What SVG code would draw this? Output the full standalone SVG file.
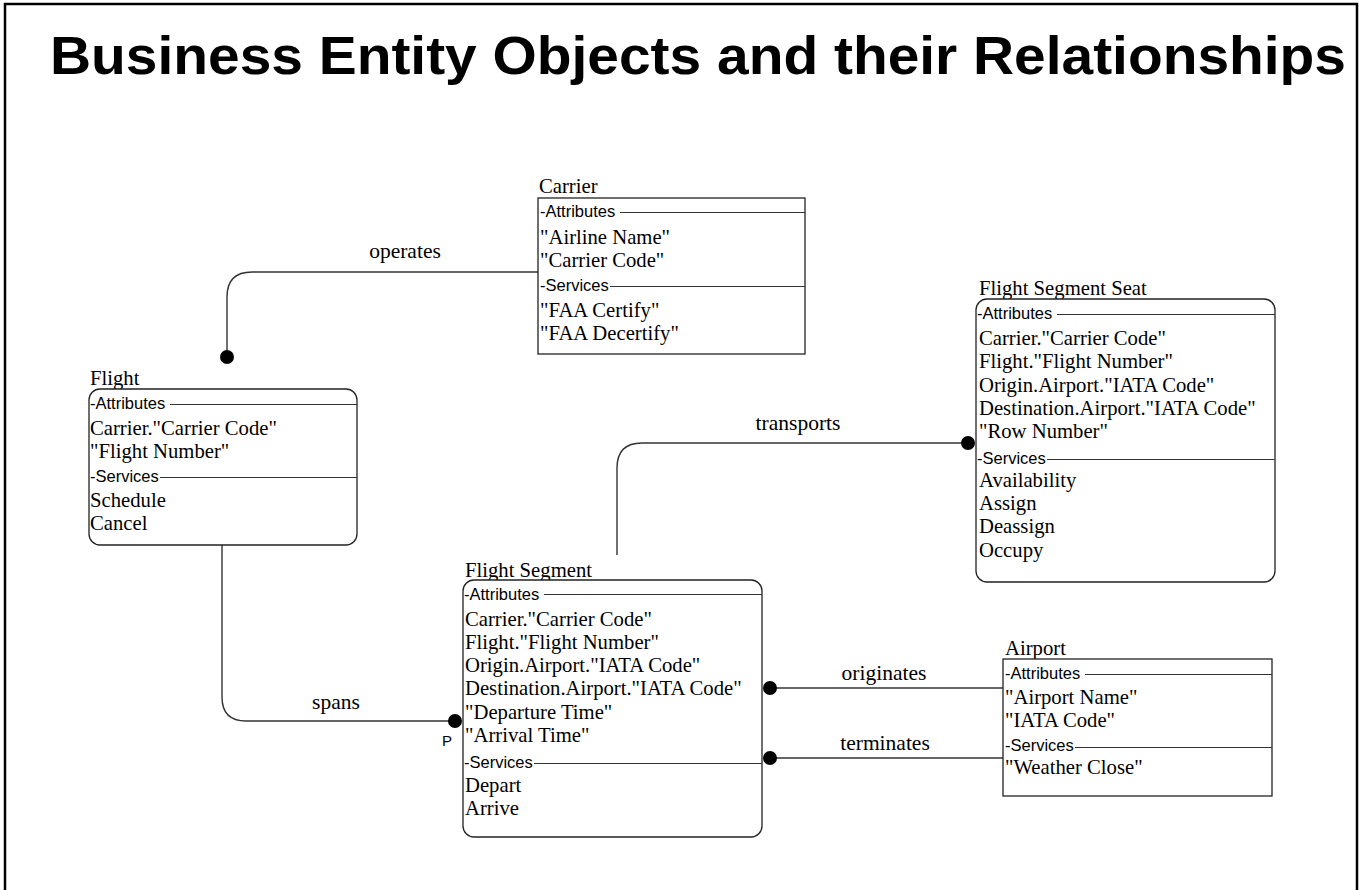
<svg xmlns="http://www.w3.org/2000/svg" width="1359" height="890" viewBox="0 0 1359 890">
<style>
.frame{fill:none;stroke:#000;stroke-width:2.5}
.title{font-family:"Liberation Sans",Arial,sans-serif;font-weight:bold;font-size:54px;fill:#000}
.box{fill:#fff;stroke:#222;stroke-width:1.3}
.name{font-family:"Liberation Serif","Times New Roman",serif;font-size:20.7px;fill:#000}
.item{font-family:"Liberation Serif","Times New Roman",serif;font-size:20.7px;fill:#000}
.hdr{font-family:"Liberation Sans",Arial,sans-serif;font-size:16.5px;fill:#000}
.sep{stroke:#333;stroke-width:1.2}
.conn{fill:none;stroke:#333;stroke-width:1.4}
.dot{fill:#000}
.lbl{font-family:"Liberation Serif","Times New Roman",serif;font-size:21.5px;fill:#000;text-anchor:middle}
.p{font-family:"Liberation Sans",Arial,sans-serif;font-size:15px;fill:#000;text-anchor:middle}
</style>
<rect class="frame" x="5" y="4" width="1352" height="900"/>
<text class="title" x="698" y="74" text-anchor="middle" textLength="1296" lengthAdjust="spacingAndGlyphs">Business Entity Objects and their Relationships</text>

<g id="connectors">
  <g id="operates">
    <path class="conn" d="M538,272 H252 Q227,272 227,297 V357"/>
    <circle class="dot" cx="227" cy="357" r="7"/>
    <text class="lbl" x="405" y="258">operates</text>
  </g>
  <g id="spans">
    <path class="conn" d="M222,545 V697 Q222,721 246,721 H455"/>
    <circle class="dot" cx="455" cy="721" r="7"/>
    <text class="lbl" x="336" y="709">spans</text>
    <text class="p" x="447" y="746">P</text>
  </g>
  <g id="transports">
    <path class="conn" d="M617,555 V468 Q617,443 642,443 H968"/>
    <circle class="dot" cx="968" cy="443" r="7"/>
    <text class="lbl" x="798" y="430">transports</text>
  </g>
  <g id="originates">
    <path class="conn" d="M1003,688 H770"/>
    <circle class="dot" cx="770" cy="688" r="7"/>
    <text class="lbl" x="884" y="680">originates</text>
  </g>
  <g id="terminates">
    <path class="conn" d="M1003,758 H770"/>
    <circle class="dot" cx="770" cy="758" r="7"/>
    <text class="lbl" x="885" y="750">terminates</text>
  </g>
</g>

<g id="carrier">
  <text class="name" x="539" y="193">Carrier</text>
  <rect class="box" x="538" y="198" width="267" height="156"/>
  <text class="hdr" x="540" y="217">-Attributes</text>
  <line class="sep" x1="620" y1="212.5" x2="805" y2="212.5"/>
  <text class="item" x="540" y="244">"Airline Name"</text>
  <text class="item" x="540" y="267">"Carrier Code"</text>
  <text class="hdr" x="540" y="291">-Services</text>
  <line class="sep" x1="610" y1="286.5" x2="805" y2="286.5"/>
  <text class="item" x="540" y="317">"FAA Certify"</text>
  <text class="item" x="540" y="340">"FAA Decertify"</text>
</g>

<g id="flight">
  <text class="name" x="90" y="385">Flight</text>
  <rect class="box" x="89" y="389" width="268" height="156" rx="11"/>
  <text class="hdr" x="90" y="409">-Attributes</text>
  <line class="sep" x1="170" y1="404.5" x2="357" y2="404.5"/>
  <text class="item" x="90" y="435">Carrier."Carrier Code"</text>
  <text class="item" x="90" y="458">"Flight Number"</text>
  <text class="hdr" x="90" y="482">-Services</text>
  <line class="sep" x1="160" y1="477.5" x2="357" y2="477.5"/>
  <text class="item" x="90" y="507">Schedule</text>
  <text class="item" x="90" y="530">Cancel</text>
</g>

<g id="flight-segment-seat">
  <text class="name" x="979" y="295">Flight Segment Seat</text>
  <rect class="box" x="976" y="299" width="299" height="283" rx="11"/>
  <text class="hdr" x="977" y="319">-Attributes</text>
  <line class="sep" x1="1057" y1="314.5" x2="1275" y2="314.5"/>
  <text class="item" x="979" y="345">Carrier."Carrier Code"</text>
  <text class="item" x="979" y="368">Flight."Flight Number"</text>
  <text class="item" x="979" y="392">Origin.Airport."IATA Code"</text>
  <text class="item" x="979" y="415">Destination.Airport."IATA Code"</text>
  <text class="item" x="979" y="438">"Row Number"</text>
  <text class="hdr" x="977" y="464">-Services</text>
  <line class="sep" x1="1047" y1="459.5" x2="1275" y2="459.5"/>
  <text class="item" x="979" y="487">Availability</text>
  <text class="item" x="979" y="510">Assign</text>
  <text class="item" x="979" y="533">Deassign</text>
  <text class="item" x="979" y="557">Occupy</text>
</g>

<g id="flight-segment">
  <text class="name" x="465" y="577">Flight Segment</text>
  <rect class="box" x="463" y="580" width="299" height="257" rx="11"/>
  <text class="hdr" x="464" y="600">-Attributes</text>
  <line class="sep" x1="544" y1="594.5" x2="762" y2="594.5"/>
  <text class="item" x="465" y="626">Carrier."Carrier Code"</text>
  <text class="item" x="465" y="649">Flight."Flight Number"</text>
  <text class="item" x="465" y="672">Origin.Airport."IATA Code"</text>
  <text class="item" x="465" y="695">Destination.Airport."IATA Code"</text>
  <text class="item" x="465" y="719">"Departure Time"</text>
  <text class="item" x="465" y="742">"Arrival Time"</text>
  <text class="hdr" x="464" y="768">-Services</text>
  <line class="sep" x1="534" y1="763.5" x2="762" y2="763.5"/>
  <text class="item" x="465" y="792">Depart</text>
  <text class="item" x="465" y="815">Arrive</text>
</g>

<g id="airport">
  <text class="name" x="1005" y="655">Airport</text>
  <rect class="box" x="1003" y="659" width="269" height="137"/>
  <text class="hdr" x="1005" y="679">-Attributes</text>
  <line class="sep" x1="1085" y1="674.5" x2="1272" y2="674.5"/>
  <text class="item" x="1005" y="704">"Airport Name"</text>
  <text class="item" x="1005" y="727">"IATA Code"</text>
  <text class="hdr" x="1005" y="751">-Services</text>
  <line class="sep" x1="1075" y1="747.5" x2="1272" y2="747.5"/>
  <text class="item" x="1005" y="774">"Weather Close"</text>
</g>
</svg>
